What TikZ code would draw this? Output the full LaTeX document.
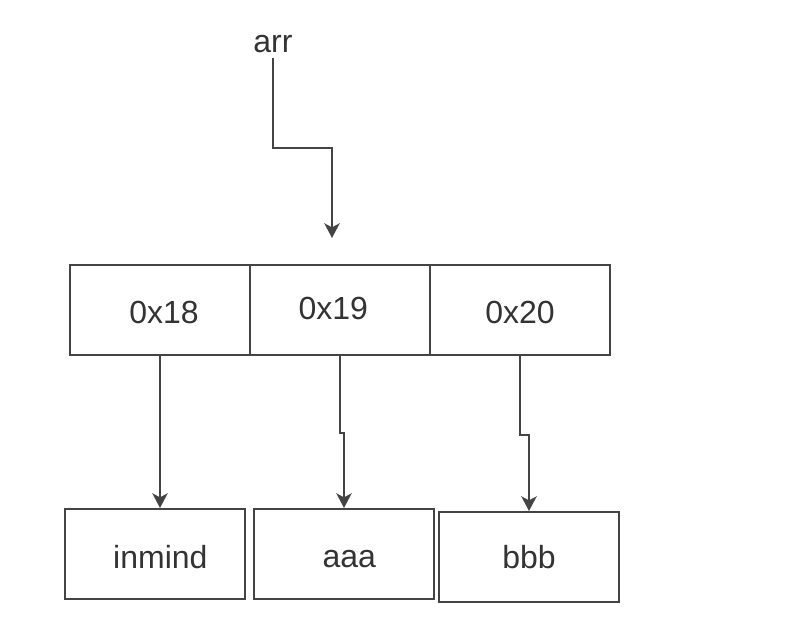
\documentclass[tikz,border=0pt]{standalone}
\usepackage{fontspec}
\setmainfont{Liberation Sans}
\usetikzlibrary{arrows.meta}
\definecolor{ln}{HTML}{444444}
\definecolor{tx}{HTML}{333333}
\begin{document}
\begin{tikzpicture}[x=0.75pt,y=-0.75pt,
  box/.style={draw=ln,line width=1.5pt,minimum width=135pt,minimum height=67.5pt,inner sep=0pt,anchor=north west},
  lbl/.style={text=tx,font=\fontsize{24}{28}\selectfont,inner sep=0pt},
  conn/.style={draw=ln,line width=1.5pt,-{Stealth[length=11pt,width=11.5pt,inset=3pt]}}]
\useasboundingbox (0,0) rectangle (800,625);
\node[box,label={[lbl,xshift=3pt,yshift=-2pt]center:0x18}] (a1) at (69,264) {};
\node[box,label={[lbl,yshift=1pt,xshift=-5pt]center:0x19}] (a2) at (249,264) {};
\node[box,label={[lbl,yshift=-2pt]center:0x20}] (a3) at (429,264) {};
\node[box,label={[lbl,xshift=4pt,yshift=-2pt]center:inmind}] (b1) at (64,508) {};
\node[box,label={[lbl,xshift=4pt,yshift=-4pt]center:aaa}] (b2) at (253,508) {};
\node[box,label={[lbl,yshift=0pt]center:bbb}] (b3) at (438,511) {};
\node[lbl] (arr) at (273,44) {arr};
\coordinate (arrend) at (332,238);
\draw[conn] ([yshift=-4pt]arr.south) -- ++(0,90) -| (arrend);
\draw[conn] (a1.south) -- (a1.south |- b1.north);
\draw[conn] (a2.south) -- ++(0,77) -| (b2.north);
\draw[conn] (a3.south) -- ++(0,79) -| (b3.north);
\end{tikzpicture}
\end{document}
